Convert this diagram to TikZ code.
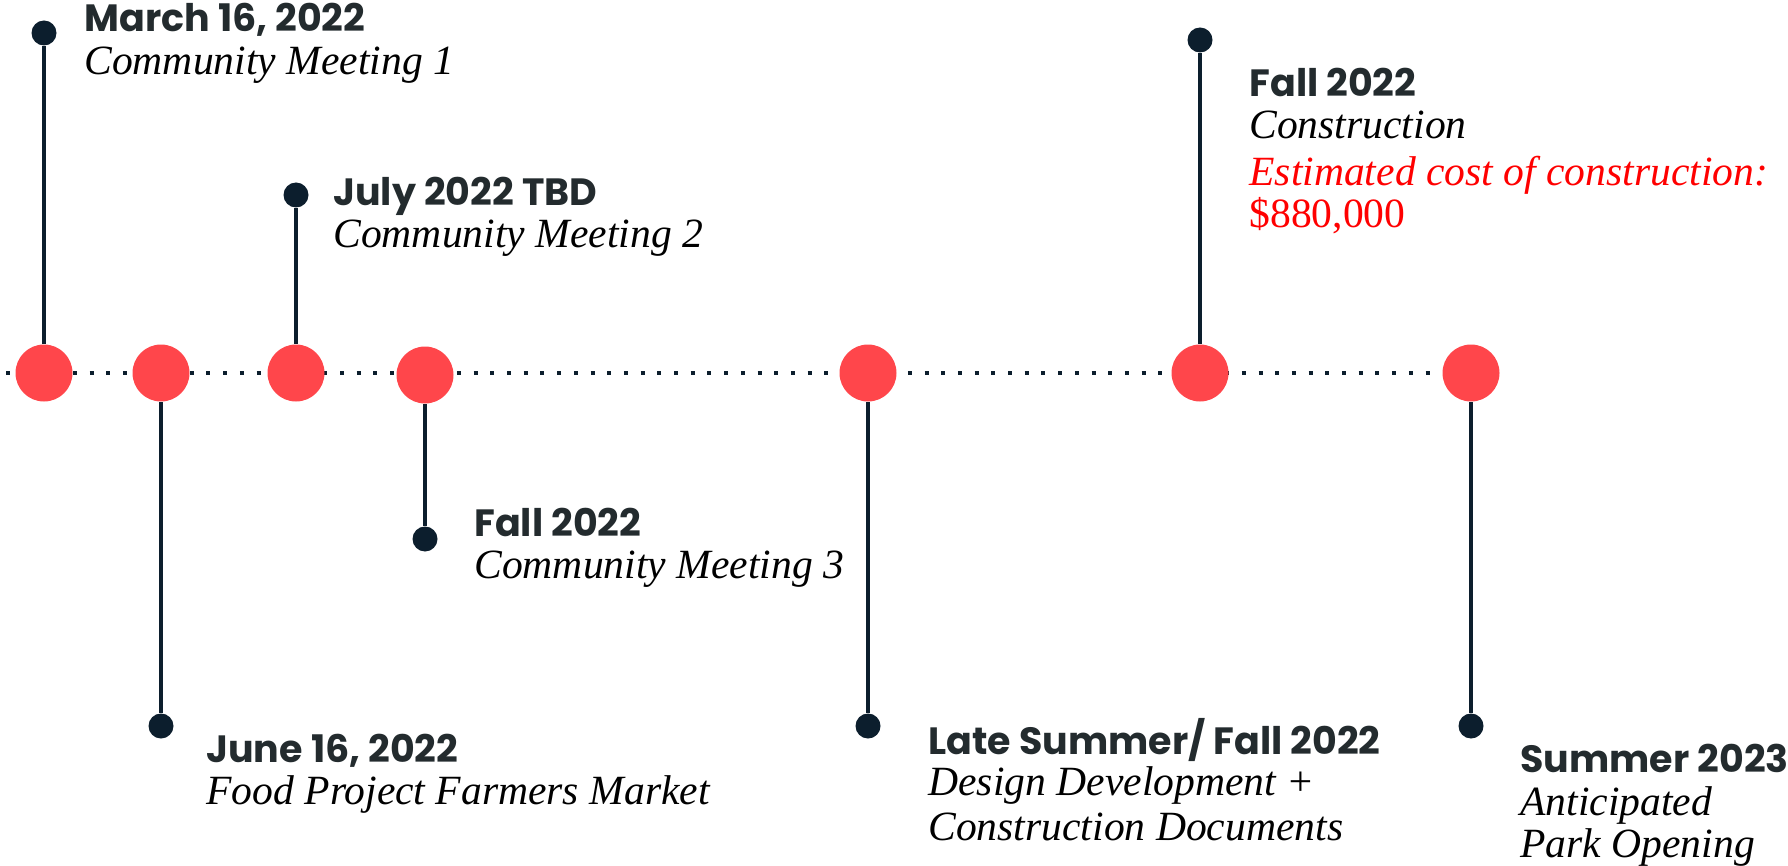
\documentclass[tikz,border=0pt]{standalone}
\usepackage{fontspec}
\usepackage{tikz}
\newfontfamily\datefont{Poppins}
\newfontfamily\notefont{Liberation Serif}
\definecolor{dotred}{HTML}{FF464B}
\definecolor{stemnavy}{HTML}{0C1E2D}
\definecolor{datecol}{HTML}{232B2E}
\definecolor{costred}{HTML}{FF0000}
\tikzset{
	milestone/.style={circle,fill=dotred,minimum size=28.5pt,inner sep=0pt},
	pin/.style={circle,fill=stemnavy,minimum size=12.5pt,inner sep=0pt},
	stem/.style={color=stemnavy,line width=1.6pt},
	datelabel/.style={anchor=base west,inner sep=0pt,color=datecol,font=\datefont\bfseries\fontsize{19}{22}\selectfont},
	notelabel/.style={anchor=base west,inner sep=0pt,color=black,font=\notefont\itshape\fontsize{20.8}{24}\selectfont},
}
\begin{document}
\begin{tikzpicture}[x=0.5pt,y=-0.5pt]

			\useasboundingbox (0,0) rectangle (1788,866);

			% dotted time line
			\coordinate (lstart) at (6,373);
			\coordinate (lend) at (1435,373);
			\draw[color=stemnavy,line width=2pt,dash pattern=on 2pt off 6.35pt] (lstart) -- (lend);

			% milestones
			\node[milestone] (m1) at (44,373) {};
			\node[milestone] (m2) at (161,373) {};
			\node[milestone] (m3) at (296,373) {};
			\node[milestone] (m4) at (425,375) {};
			\node[milestone] (m5) at (868,373) {};
			\node[milestone] (m6) at (1200,373) {};
			\node[milestone] (m7) at (1471,373) {};

			\node[pin] (p1) at (44,33) {};
			\node[pin] (p2) at (161,726) {};
			\node[pin] (p3) at (296,195) {};
			\node[pin] (p4) at (425,539) {};
			\node[pin] (p5) at (868,726) {};
			\node[pin] (p6) at (1200,40) {};
			\node[pin] (p7) at (1471,726) {};

			\draw[stem] (m1) -- (p1);
			\draw[stem] (m2) -- (p2);
			\draw[stem] (m3) -- (p3);
			\draw[stem] (m4) -- (p4);
			\draw[stem] (m5) -- (p5);
			\draw[stem] (m6) -- (p6);
			\draw[stem] (m7) -- (p7);

			% labels
			\node[datelabel] (t1) at (84,32) {March 16, 2022};
			\node[notelabel] (n1) at (84,75) {Community Meeting 1};

			\node[datelabel] (t2) at (206,762) {June 16, 2022};
			\node[notelabel] (n2) at (206,804) {Food Project Farmers Market};

			\node[datelabel] (t3) at (333,206) {July 2022 TBD};
			\node[notelabel] (n3) at (333,248) {Community Meeting 2};

			\node[datelabel] (t4) at (474,536) {Fall 2022};
			\node[notelabel] (n4) at (474,578) {Community Meeting 3};

			\node[datelabel] (t5) at (928,754) {Late Summer/ Fall 2022};
			\node[notelabel] (n5a) at (928,795) {Design Development +};
			\node[notelabel] (n5b) at (928,840) {Construction Documents};

			\node[datelabel] (t6) at (1249,97) {Fall 2022};
			\node[notelabel] (n6a) at (1249,139) {Construction};
			\node[notelabel,color=costred] (n6b) at (1249,186) {Estimated cost of construction:};
			\node[notelabel,color=costred,font=\notefont\upshape\fontsize{20.8}{24}\selectfont] (n6c) at (1249,228) {\$880,000};

			\node[datelabel] (t7) at (1520,772) {Summer 2023};
			\node[notelabel] (n7a) at (1520,815) {Anticipated};
			\node[notelabel] (n7b) at (1520,857) {Park Opening};

		\end{tikzpicture}
\end{document}
